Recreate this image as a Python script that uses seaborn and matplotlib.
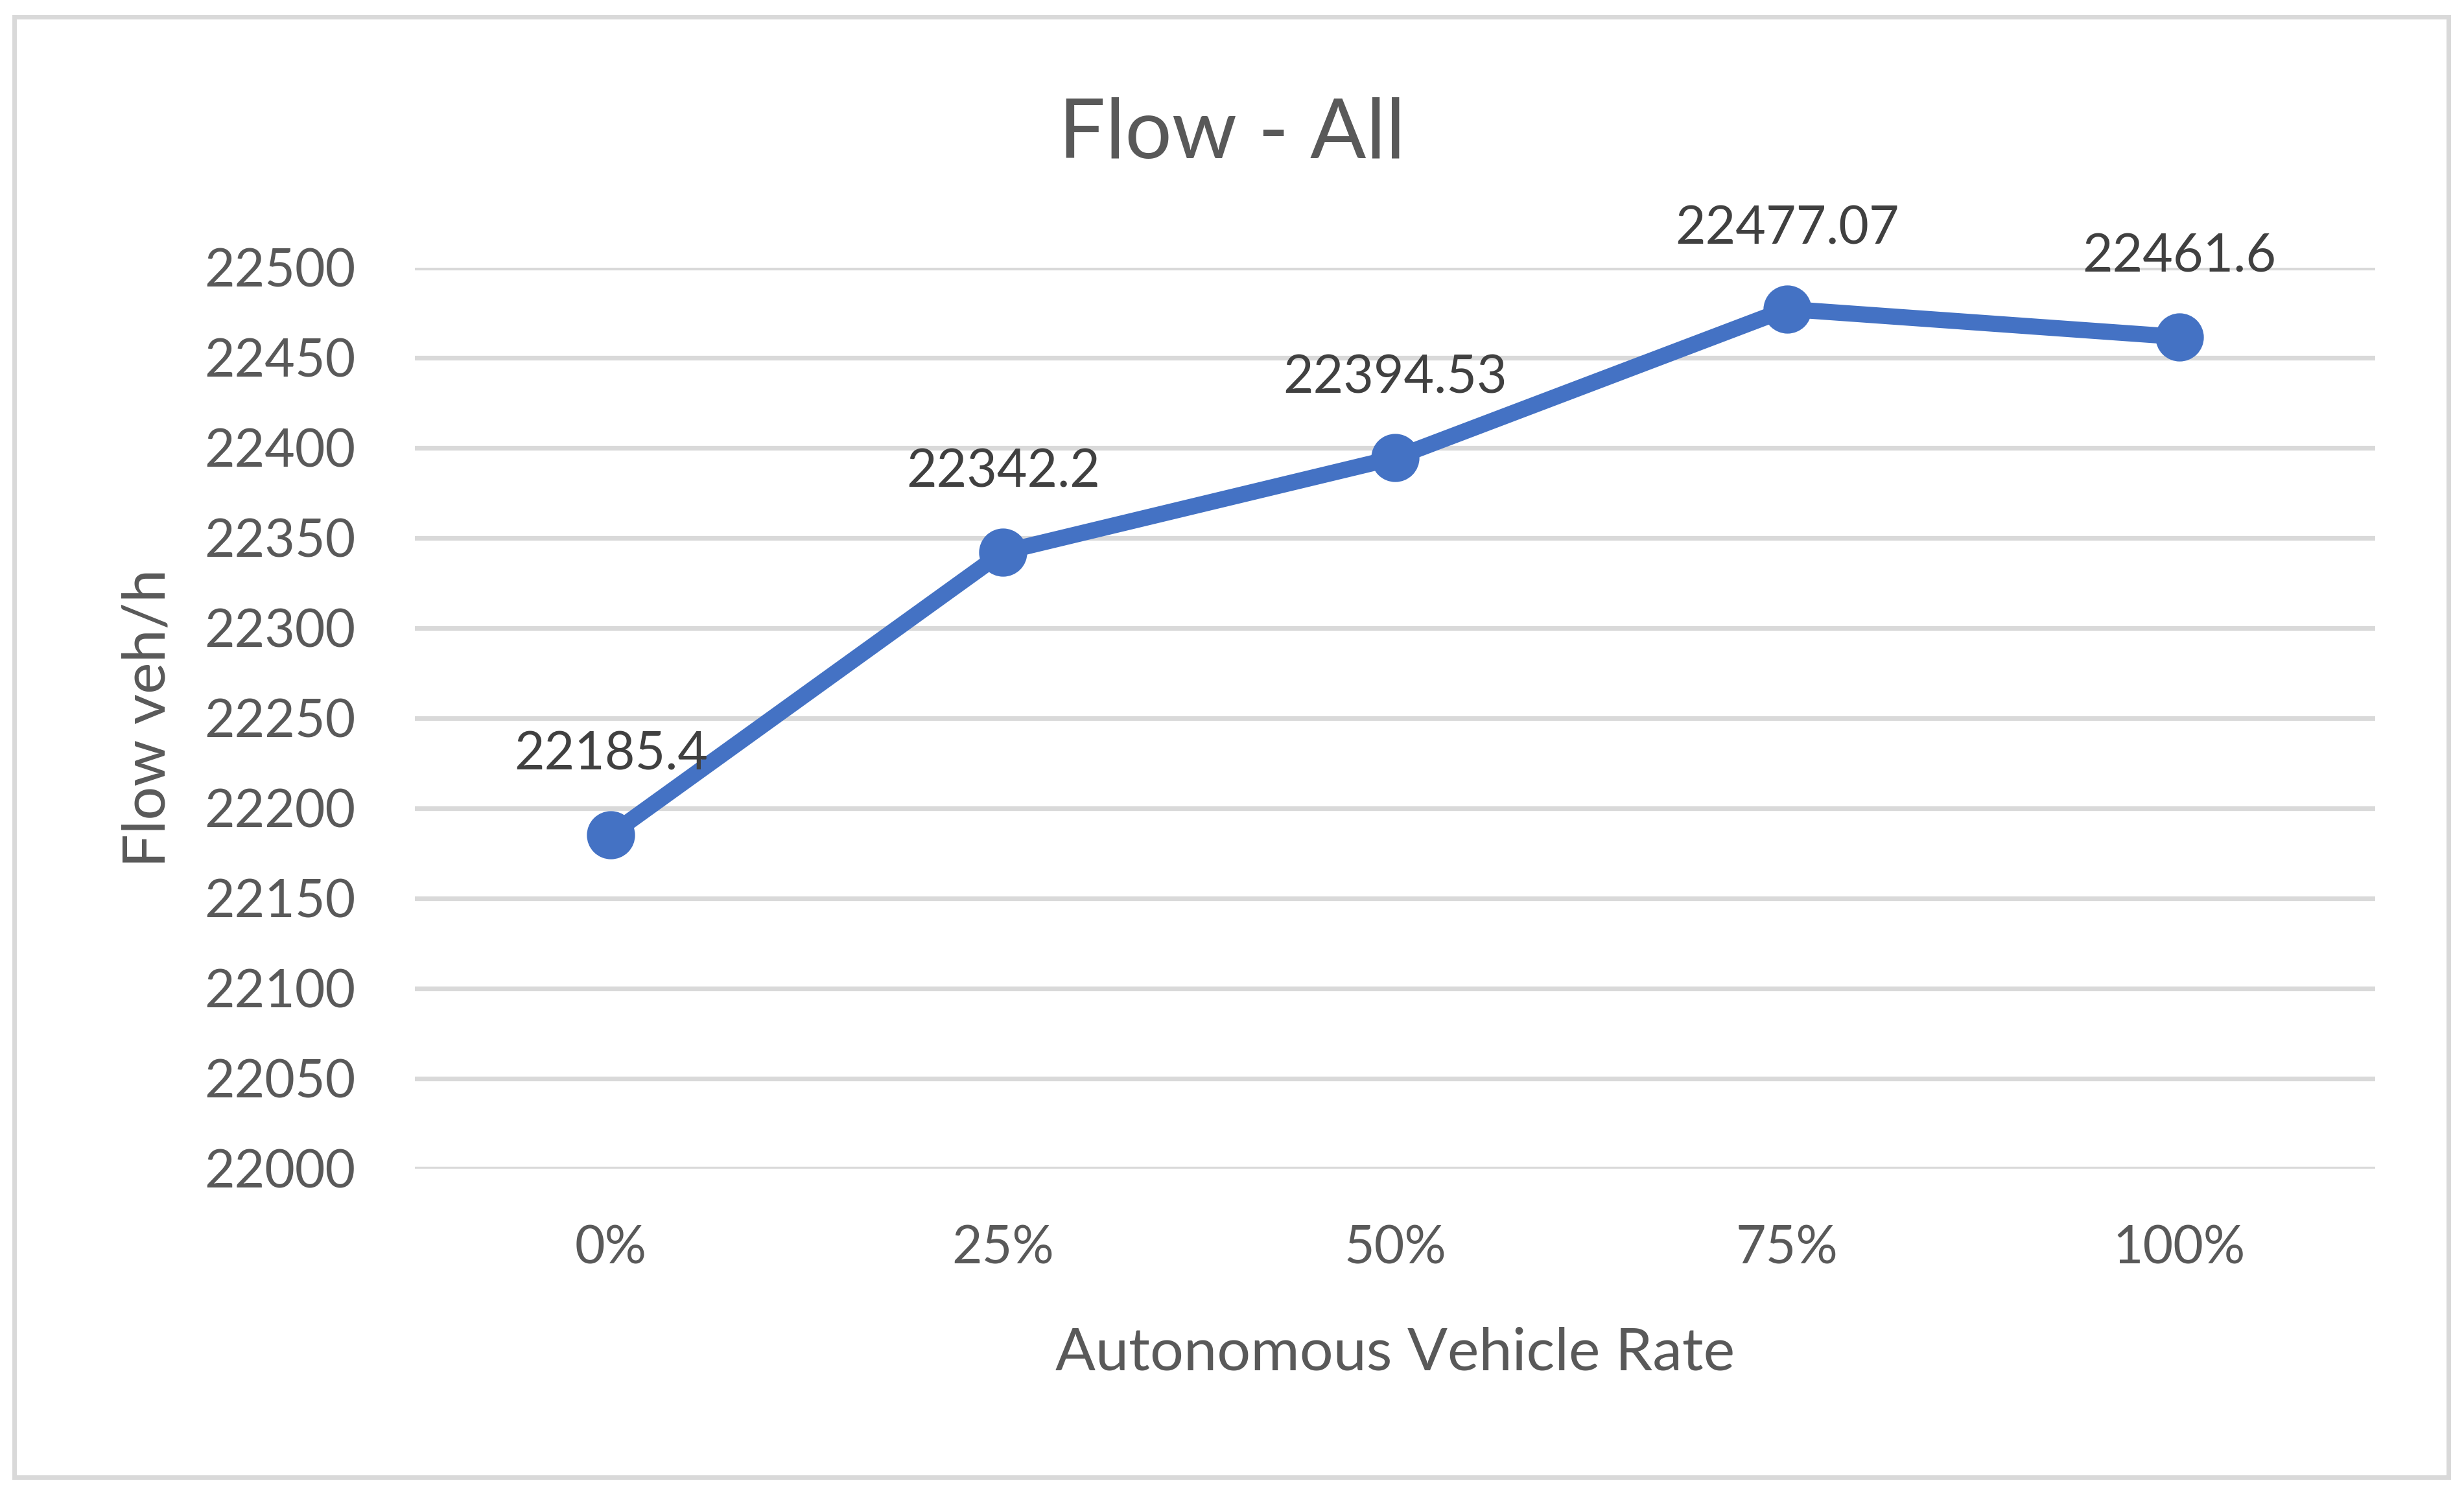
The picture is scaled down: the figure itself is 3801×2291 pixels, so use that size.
import seaborn as sns
import matplotlib.pyplot as plt
from matplotlib.patches import Rectangle

# values
rates = ["0%", "25%", "50%", "75%", "100%"]
flow = [22185.4, 22342.2, 22394.53, 22477.07, 22461.6]
flow_labels = ["22185.4", "22342.2", "22394.53", "22477.07", "22461.6"]
y_ticks = [22000, 22050, 22100, 22150, 22200, 22250, 22300, 22350, 22400, 22450, 22500]

sns.set_theme(style="white")
plt.rcParams['font.family'] = ['Lato', 'DejaVu Sans']

W, H = 3801, 2291
dpi = 200
fig = plt.figure(figsize=(W / dpi, H / dpi), dpi=dpi)
ax = fig.add_axes([640 / W, 1 - 1803 / H, (3664 - 640) / W, (1803 - 413) / H])

line_col = "#4472C4"
text_col = "#595959"
grid_col = "#D9D9D9"

sns.pointplot(x=rates, y=flow, ax=ax, color=line_col, errorbar=None,
              markers="o", markersize=20, linewidth=9)

ax.set_xlim(-0.5, len(rates) - 0.5)
ax.set_ylim(22000, 22500)
ax.set_yticks(y_ticks)
ax.yaxis.grid(True, color=grid_col, linewidth=2.6)
ax.set_axisbelow(True)
for s in ax.spines.values():
    s.set_visible(False)

ax.tick_params(axis="y", length=0, pad=33, labelsize=29, labelcolor=text_col)
ax.tick_params(axis="x", length=0, pad=31, labelsize=29, labelcolor=text_col)

for i, (v, lab) in enumerate(zip(flow, flow_labels)):
    ax.annotate(lab, (i, v), xytext=(0, 36), textcoords="offset points",
                ha="center", va="baseline", fontsize=29, color="#404040")

ax.set_xlabel("Autonomous Vehicle Rate", fontsize=33, color=text_col)
ax.xaxis.set_label_coords(0.5, (1803 - 2113) / 1390)
ax.xaxis.label.set_va("baseline")
ax.set_ylabel("Flow veh/h", fontsize=33, color=text_col)
ax.yaxis.set_label_coords((229 - 640) / 3024, 0.5)
ax.yaxis.label.set_va("center")

fig.text(0.5, 1 - 244 / H, "Flow - All", ha="center", va="baseline",
         fontsize=46, color=text_col)

# outer chart border
fig.patches.append(Rectangle((22 / W, 1 - 2279 / H), (3777 - 22) / W, (2279 - 26) / H,
                             transform=fig.transFigure, fill=False,
                             edgecolor=grid_col, linewidth=2.5))

plt.savefig("out.png", dpi=dpi)
